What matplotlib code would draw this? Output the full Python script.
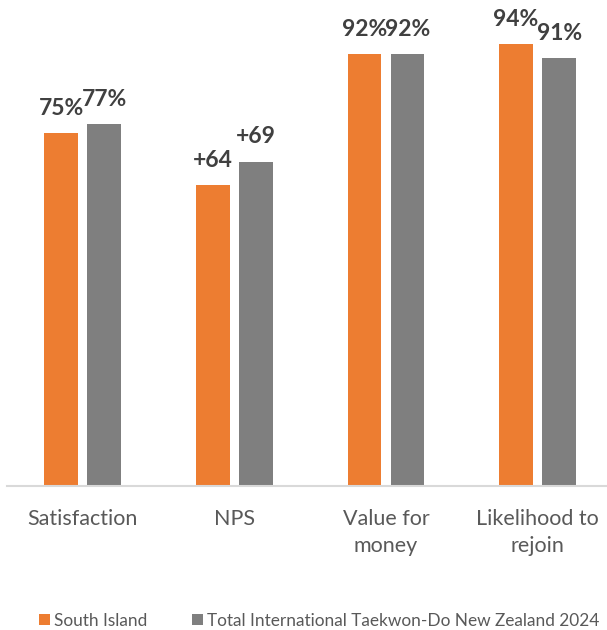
import matplotlib
matplotlib.use("Agg")
import matplotlib.pyplot as plt
import numpy as np

categories = ["Satisfaction", "NPS", "Value for\nmoney", "Likelihood to\nrejoin"]
south_island = [75, 64, 92, 94]
total_itf = [77, 69, 92, 91]
south_labels = ["75%", "+64", "92%", "94%"]
total_labels = ["77%", "+69", "92%", "91%"]
series_names = ["South Island", "Total International Taekwon-Do New Zealand 2024"]

ORANGE = "#ED7D31"
GRAY = "#7F7F7F"
LABEL_C = "#404040"
TICK_C = "#595959"

W, H = 607, 630
fig = plt.figure(figsize=(W / 100, H / 100), dpi=100)
ax = fig.add_axes([7 / W, (H - 485.5) / H, 1 - 7 / W, (485.5 - 16) / H])

x = np.arange(len(categories))
bw = 0.222
off = 0.142
b1 = ax.bar(x - off, south_island, bw, color=ORANGE, label=series_names[0], zorder=2)
b2 = ax.bar(x + off, total_itf, bw, color=GRAY, label=series_names[1], zorder=2)

ax.set_ylim(0, 100)
ax.set_xlim(-0.4993, 3.458)

for bars, labs in ((b1, south_labels), (b2, total_labels)):
    for rect, lab in zip(bars, labs):
        ax.annotate(lab, (rect.get_x() + rect.get_width() / 2, rect.get_height()),
                    xytext=(0, 13), textcoords="offset points", ha="center", va="baseline",
                    fontsize=16.5, fontweight="bold", color=LABEL_C, family="Lato",
                    annotation_clip=False)

for s in ("top", "right", "left"):
    ax.spines[s].set_visible(False)
ax.spines["bottom"].set_color("#D9D9D9")
ax.spines["bottom"].set_linewidth(1.5)
ax.set_yticks([])
ax.set_xticks(x)
ax.set_xticklabels(categories, fontsize=15.5, color=TICK_C, family="Lato", linespacing=1.4)
ax.tick_params(axis="x", length=0, pad=17)

leg = fig.legend(handles=[b1, b2], labels=series_names, loc="center left",
                 bbox_to_anchor=(39 / W, (H - 620.5) / H), ncol=2, frameon=False,
                 borderpad=0, borderaxespad=0, handlelength=0.62, handleheight=0.62,
                 handletextpad=0.26, columnspacing=2.6,
                 prop={"family": "Lato", "size": 12.4})
for t in leg.get_texts():
    t.set_color(TICK_C)

fig.savefig("out.png", dpi=100)
